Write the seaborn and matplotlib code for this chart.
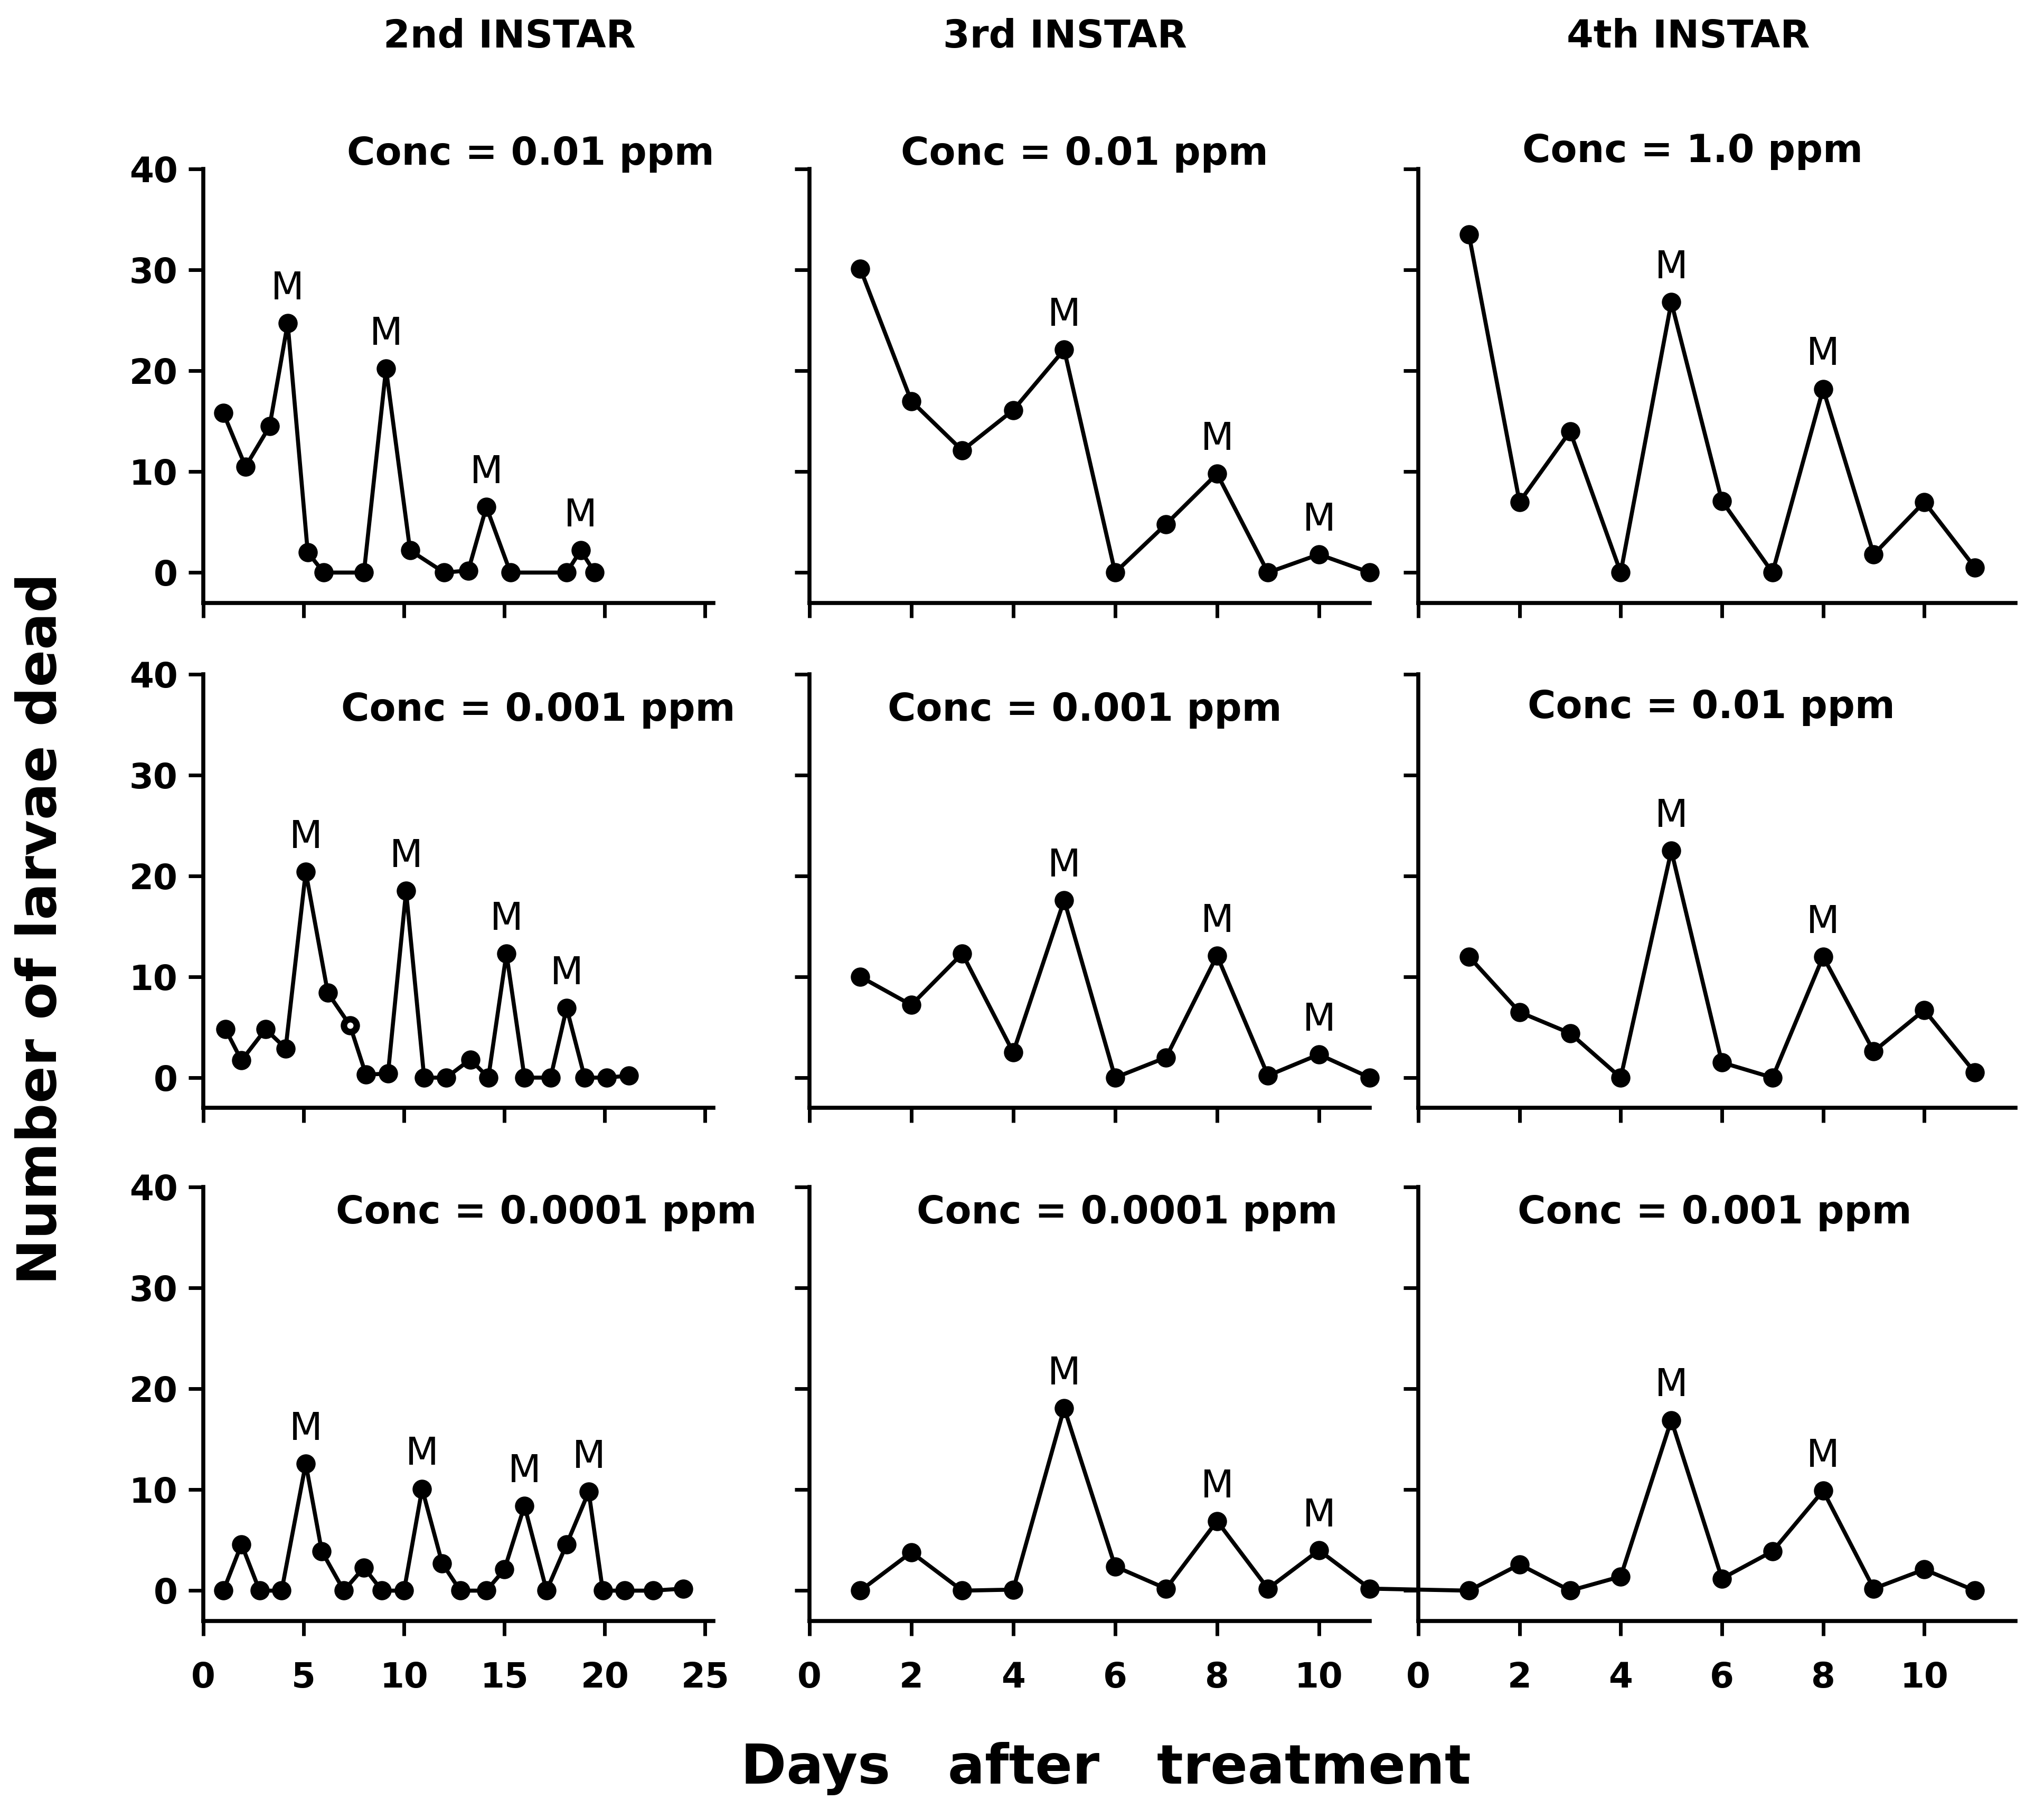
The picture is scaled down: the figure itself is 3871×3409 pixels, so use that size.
#!/usr/bin/env python3
import matplotlib
matplotlib.use("Agg")
import matplotlib.pyplot as plt
from matplotlib.patches import ConnectionPatch
import pandas as pd
import seaborn as sns

# === values (days after treatment, number of larvae dead) ===
# 2nd instar -- sampling days are irregular on the original
inst2_c001_days = [1.0, 2.1, 3.3, 4.2, 5.2, 6.0, 8.0, 9.1, 10.3, 12.0, 13.2, 14.1, 15.3, 18.1, 18.8, 19.5]
inst2_c001_dead = [15.8, 10.5, 14.5, 24.7, 2.0, 0, 0, 20.2, 2.2, 0, 0.2, 6.5, 0, 0, 2.2, 0]
inst2_c001_molts = [4.2, 9.1, 14.1, 18.8]

inst2_c0001_days = [1.1, 1.9, 3.1, 4.1, 5.1, 6.2, 7.3, 8.1, 9.2, 10.1, 11.0, 12.1, 13.3, 14.2, 15.1, 16.0, 17.3, 18.1, 19.0, 20.1, 21.2]
inst2_c0001_dead = [4.8, 1.7, 4.8, 2.9, 20.4, 8.4, 5.2, 0.3, 0.4, 18.5, 0, 0, 1.8, 0, 12.3, 0, 0, 6.9, 0, 0, 0.2]
inst2_c0001_molts = [5.1, 10.1, 15.1, 18.1]
inst2_c0001_open = [7.3]

inst2_c00001_days = [1.0, 1.9, 2.8, 3.9, 5.1, 5.9, 7.0, 8.0, 8.9, 10.0, 10.9, 11.9, 12.8, 14.1, 15.0, 16.0, 17.1, 18.1, 19.2, 19.9, 21.0, 22.4, 23.9]
inst2_c00001_dead = [0, 4.6, 0, 0, 12.6, 3.9, 0, 2.3, 0, 0, 10.1, 2.7, 0, 0, 2.1, 8.4, 0, 4.6, 9.8, 0, 0, 0, 0.2]
inst2_c00001_molts = [5.1, 10.9, 16.0, 19.2]

# 3rd and 4th instar -- daily counts, days 1..11
days_11 = [1, 2, 3, 4, 5, 6, 7, 8, 9, 10, 11]

inst3_c001_dead = [30.1, 17.0, 12.1, 16.1, 22.1, 0, 4.8, 9.8, 0, 1.8, 0]
inst3_c0001_dead = [10.0, 7.2, 12.3, 2.5, 17.6, 0, 2.0, 12.1, 0.2, 2.3, 0]
inst3_c00001_dead = [0, 3.8, 0, 0.1, 18.1, 2.4, 0.2, 6.9, 0.2, 4.0, 0.2]
inst3_molts = [5, 8, 10]

inst4_c1_dead = [33.5, 7.0, 14.0, 0, 26.8, 7.1, 0, 18.2, 1.8, 7.0, 0.5]
inst4_c001_dead = [12.0, 6.5, 4.4, 0, 22.5, 1.5, 0, 12.0, 2.6, 6.7, 0.5]
inst4_c0001_dead = [0, 2.6, 0, 1.4, 16.9, 1.2, 3.9, 9.9, 0.2, 2.1, 0]
inst4_molts = [5, 8]

col_titles = ["2nd INSTAR", "3rd INSTAR", "4th INSTAR"]
conc_labels = [
    ["Conc = 0.01 ppm", "Conc = 0.01 ppm", "Conc = 1.0 ppm"],
    ["Conc = 0.001 ppm", "Conc = 0.001 ppm", "Conc = 0.01 ppm"],
    ["Conc = 0.0001 ppm", "Conc = 0.0001 ppm", "Conc = 0.001 ppm"],
]
y_ticks = [0, 10, 20, 30, 40]
x_ticks = [[0, 5, 10, 15, 20, 25], [0, 2, 4, 6, 8, 10], [0, 2, 4, 6, 8, 10]]

panels = [
    [(inst2_c001_days, inst2_c001_dead, inst2_c001_molts, []),
     (days_11, inst3_c001_dead, inst3_molts, []),
     (days_11, inst4_c1_dead, inst4_molts, [])],
    [(inst2_c0001_days, inst2_c0001_dead, inst2_c0001_molts, inst2_c0001_open),
     (days_11, inst3_c0001_dead, inst3_molts, []),
     (days_11, inst4_c001_dead, inst4_molts, [])],
    [(inst2_c00001_days, inst2_c00001_dead, inst2_c00001_molts, []),
     (days_11, inst3_c00001_dead, inst3_molts, []),
     (days_11, inst4_c0001_dead, inst4_molts, [])],
]

# === layout ===
sns.set_style("ticks")
plt.rcParams["font.family"] = ["DejaVu Sans"]
plt.rcParams["text.color"] = "black"
plt.rcParams["axes.labelcolor"] = "black"
plt.rcParams["xtick.color"] = "black"
plt.rcParams["ytick.color"] = "black"

col_left = [0.0995, 0.3960, 0.6939]
col_width = [0.2494, 0.2742, 0.2921]
col_xmax = [25.4, 11.0, 11.8]
row_bottom = [0.6651, 0.3845, 0.0995]
row_height = 0.241
conc_pos = [
    [(0.642, 1.035), (0.491, 1.035), (0.459, 1.041)],
    [(0.657, 0.917), (0.491, 0.917), (0.491, 0.923)],
    [(0.673, 0.941), (0.567, 0.941), (0.496, 0.941)],
]

fig = plt.figure(figsize=(3871 / 250, 3409 / 250), dpi=250)
fig.patch.set_facecolor("white")
axes = [[None] * 3 for _ in range(3)]

for r in range(3):
    for c in range(3):
        days, dead, molts, open_pts = panels[r][c]
        ax = fig.add_axes([col_left[c], row_bottom[r], col_width[c], row_height])
        axes[r][c] = ax
        df = pd.DataFrame({"day": days, "dead": dead})
        sns.lineplot(data=df, x="day", y="dead", ax=ax, color="black",
                     linewidth=2.2, marker="o", markersize=9.5,
                     markeredgecolor="black", markeredgewidth=1, clip_on=False)

        if open_pts:
            dfo = df[df["day"].isin(open_pts)]
            sns.scatterplot(data=dfo, x="day", y="dead", ax=ax, s=30,
                            facecolor="white", edgecolor="black",
                            linewidth=2, zorder=5, clip_on=False)

        for d in molts:
            yv = dead[days.index(d)]
            ax.annotate("M", (d, yv), xytext=(0, 13), textcoords="offset points",
                        ha="center", va="baseline", fontsize=21, color="black")

        ax.text(conc_pos[r][c][0], conc_pos[r][c][1], conc_labels[r][c],
                transform=ax.transAxes, ha="center", va="center",
                fontsize=21, fontweight="bold", color="black")

        ax.set_xlim(0, col_xmax[c])
        ax.set_ylim(-3, 40)
        ax.set_xticks(x_ticks[c])
        ax.set_yticks(y_ticks)
        ax.set_xlabel("")
        ax.set_ylabel("")
        ax.tick_params(axis="both", direction="out", length=8, width=2,
                       labelsize=19, color="black", labelcolor="black")
        ax.tick_params(axis="x", pad=14)
        ax.tick_params(axis="y", pad=6)
        for lab in ax.get_xticklabels() + ax.get_yticklabels():
            lab.set_fontweight("bold")
        if c > 0:
            ax.set_yticklabels([])
        if r < 2:
            ax.set_xticklabels([])
        sns.despine(ax=ax)
        for s in ["left", "bottom"]:
            ax.spines[s].set_linewidth(2.2)
            ax.spines[s].set_color("black")
        ax.set_facecolor("white")

# stray baseline running from the 3rd-instar panel into the 4th-instar panel
con = ConnectionPatch(xyA=(days_11[-1], inst3_c00001_dead[-1]), coordsA=axes[2][1].transData,
                      xyB=(days_11[0], inst4_c0001_dead[0]), coordsB=axes[2][2].transData,
                      color="black", linewidth=2.2)
fig.add_artist(con)

title_x = [0.2494, 0.521, 0.826]
for c in range(3):
    fig.text(title_x[c], 0.9797, col_titles[c], ha="center", va="center",
             fontsize=21, fontweight="bold", color="black")

fig.text(0.0204, 0.484, "Number of larvae dead", rotation=90, ha="center",
         va="center", fontsize=30, fontweight="bold", color="black")
fig.text(0.541, 0.0174, "Days   after   treatment", ha="center", va="center",
         fontsize=30, fontweight="bold", color="black")

fig.savefig("out.png", dpi=250, facecolor="white")
